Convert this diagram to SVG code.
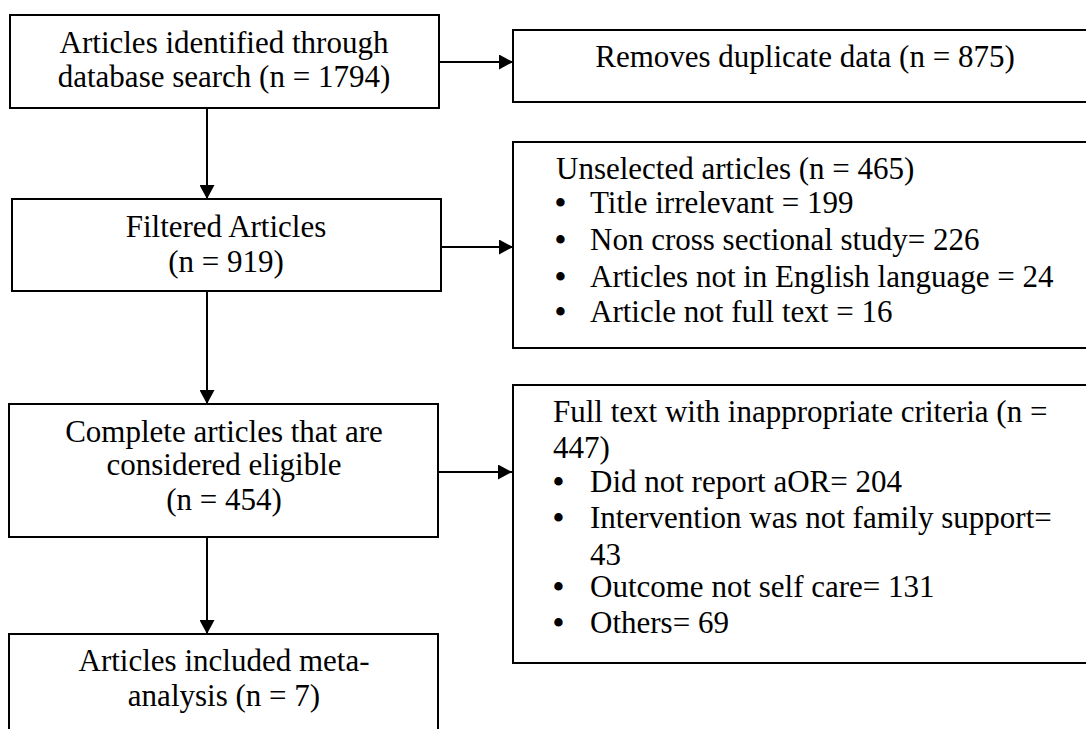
<svg xmlns="http://www.w3.org/2000/svg" width="1086" height="729" viewBox="0 0 1086 729">
<defs>
<style>
.box{fill:#fff;stroke:#000;stroke-width:2}
.t{font-family:"Liberation Serif","Times New Roman",serif;font-size:31px;fill:#000}
.c{text-anchor:middle}
.ln{stroke:#000;stroke-width:2;fill:none}
.b{font-family:"Liberation Serif","Times New Roman",serif;font-size:31px;font-weight:bold;fill:#000}
</style>
<marker id="ahd" markerWidth="14" markerHeight="15" refX="14" refY="7.5" orient="auto" markerUnits="userSpaceOnUse" viewBox="0 0 14 15">
<path d="M0,0 L14,7.5 L0,15 z" fill="#000"/>
</marker>
</defs>
<rect width="1086" height="729" fill="#fff"/>
<g id="connectors">
<line class="ln" x1="439" y1="62" x2="513" y2="62" marker-end="url(#ahd)"/>
<line class="ln" x1="207" y1="108" x2="207" y2="199" marker-end="url(#ahd)"/>
<line class="ln" x1="441" y1="247" x2="513" y2="247" marker-end="url(#ahd)"/>
<line class="ln" x1="207" y1="291" x2="207" y2="404" marker-end="url(#ahd)"/>
<line class="ln" x1="438" y1="472" x2="512" y2="472" marker-end="url(#ahd)"/>
<line class="ln" x1="207" y1="537" x2="207" y2="634" marker-end="url(#ahd)"/>
</g>
<g id="n1">
<rect class="box" x="10" y="15" width="429" height="93"/>
<text class="t c" x="224" y="53">Articles identified through</text>
<text class="t c" x="224" y="87">database search (n = 1794)</text>
</g>
<g id="n2">
<rect class="box" x="513" y="30" width="590" height="72"/>
<text class="t c" x="805" y="67">Removes duplicate data (n = 875)</text>
</g>
<g id="n3">
<rect class="box" x="12" y="199" width="429" height="92"/>
<text class="t c" x="226" y="237">Filtered Articles</text>
<text class="t c" x="226" y="272">(n = 919)</text>
</g>
<g id="n4">
<rect class="box" x="513" y="142" width="590" height="206"/>
<text class="t" x="556" y="179">Unselected articles (n = 465)</text>
<text class="b" x="555" y="213">•</text><text class="t" x="590" y="213">Title irrelevant = 199</text>
<text class="b" x="555" y="250">•</text><text class="t" x="590" y="250">Non cross sectional study= 226</text>
<text class="b" x="555" y="287">•</text><text class="t" x="590" y="287">Articles not in English language = 24</text>
<text class="b" x="555" y="322">•</text><text class="t" x="590" y="322">Article not full text = 16</text>
</g>
<g id="n5">
<rect class="box" x="9" y="404" width="429" height="133"/>
<text class="t c" x="224" y="442">Complete articles that are</text>
<text class="t c" x="224" y="475">considered eligible</text>
<text class="t c" x="224" y="510">(n = 454)</text>
</g>
<g id="n6">
<rect class="box" x="513" y="385" width="590" height="278"/>
<text class="t" x="553" y="422">Full text with inappropriate criteria (n =</text>
<text class="t" x="553" y="458">447)</text>
<text class="b" x="553" y="492">•</text><text class="t" x="590" y="492">Did not report aOR= 204</text>
<text class="b" x="553" y="528">•</text><text class="t" x="590" y="528">Intervention was not family support=</text>
<text class="t" x="590" y="565">43</text>
<text class="b" x="553" y="597">•</text><text class="t" x="590" y="597">Outcome not self care= 131</text>
<text class="b" x="553" y="633">•</text><text class="t" x="590" y="633">Others= 69</text>
</g>
<g id="n7">
<rect class="box" x="9" y="634" width="429" height="110"/>
<text class="t c" x="224" y="671">Articles included meta-</text>
<text class="t c" x="224" y="706">analysis (n = 7)</text>
</g>
</svg>
